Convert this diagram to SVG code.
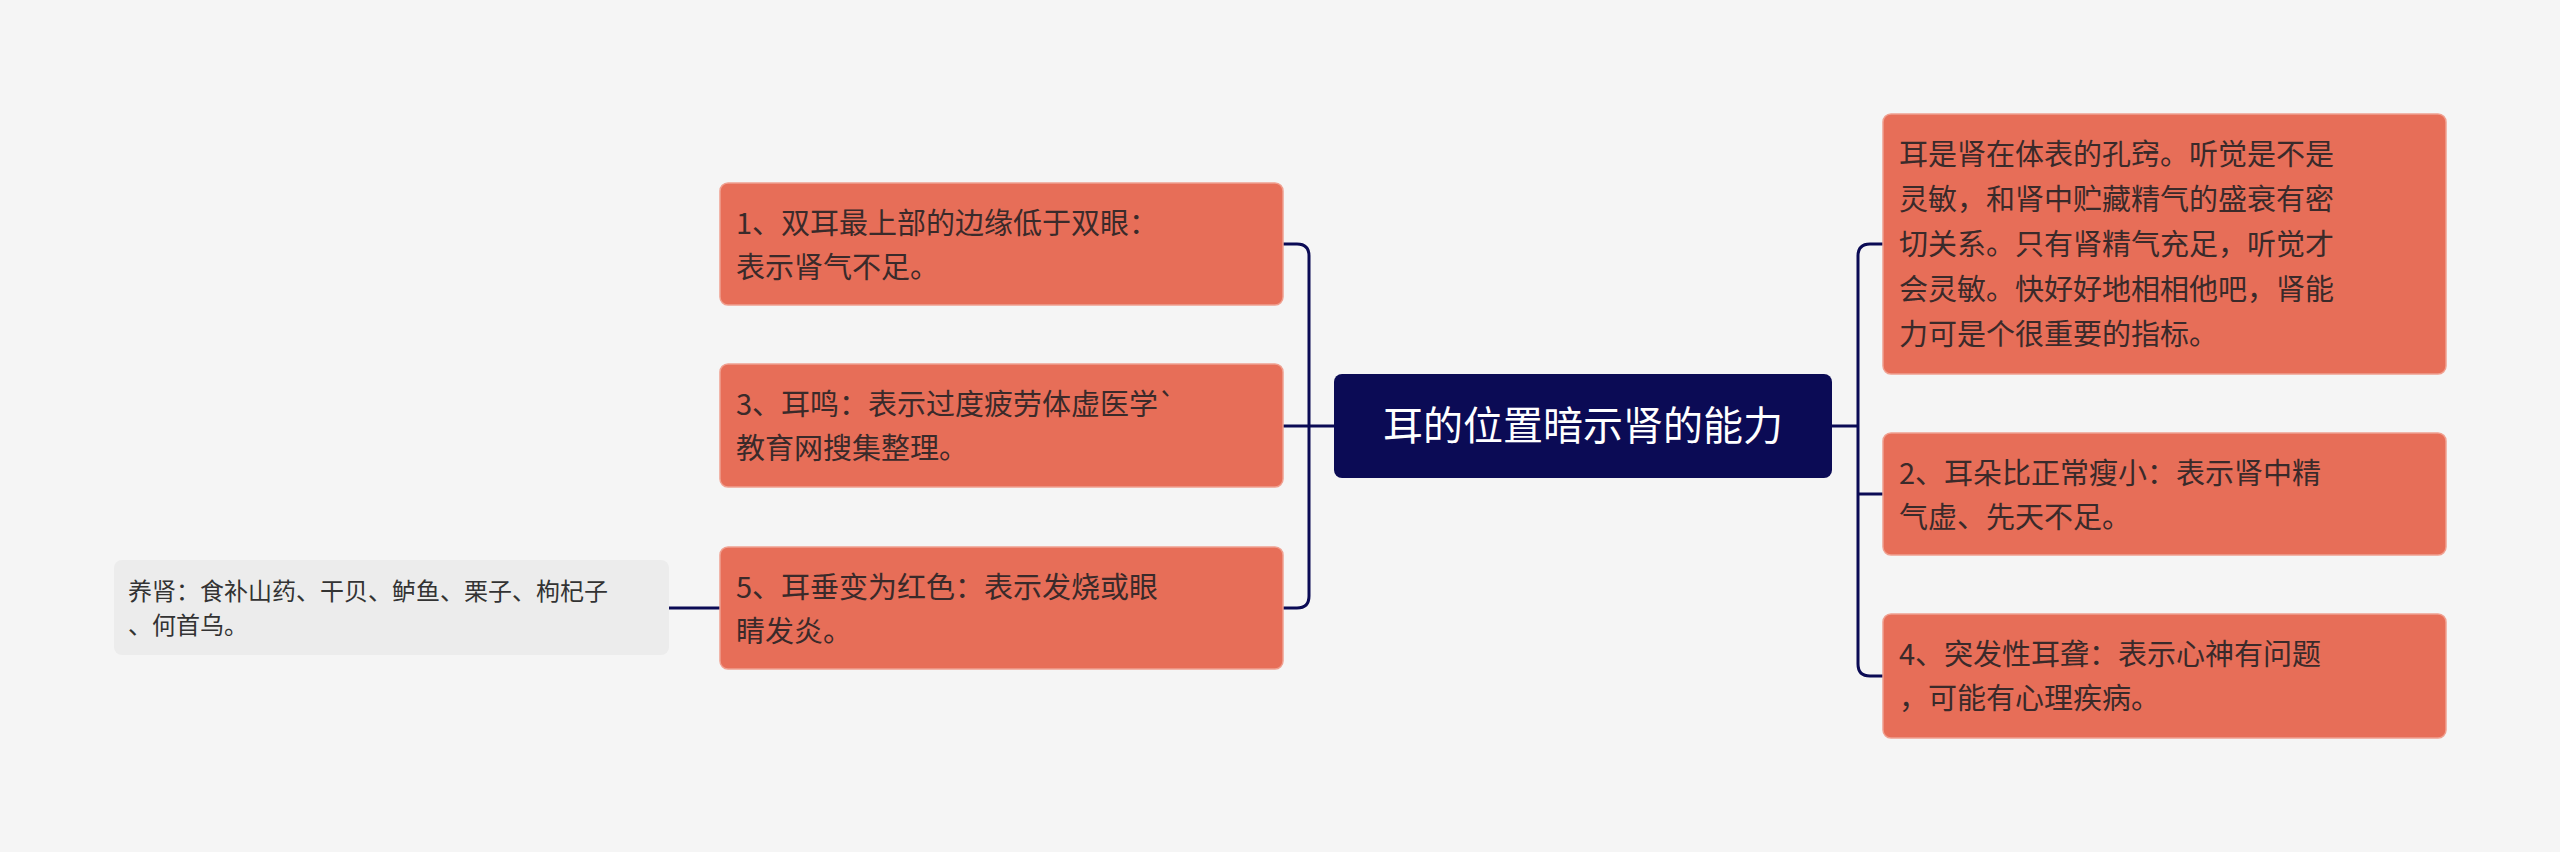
<svg xmlns="http://www.w3.org/2000/svg" width="2560" height="852" viewBox="0 0 2560 852">
<style>
.n rect{fill:#e76e58;stroke:#f0a090;stroke-width:1.5}
.n text{font-family:"Noto Sans CJK SC","Noto Sans",sans-serif;font-size:29px;fill:#3a2a2a}
.c path{fill:none;stroke:#0b0b55;stroke-width:3}
</style>
<rect width="2560" height="852" fill="#f5f5f5"/>
<g class="c">
<path d="M1334 426H1309"/>
<path d="M1283 244H1297Q1309 244 1309 256V596Q1309 608 1297 608H1283"/>
<path d="M1283 426H1309"/>
<path d="M1832 426H1858"/>
<path d="M1883 244H1870Q1858 244 1858 256V664Q1858 676 1870 676H1883"/>
<path d="M1858 494H1883"/>
<path d="M669 608H720"/>
</g>
<g id="center"><rect x="1334" y="374" width="498" height="104" rx="8" fill="#0b0b55"/><text x="1583" y="440" text-anchor="middle" font-family="Noto Sans CJK SC,sans-serif" font-size="40" fill="#fff">耳的位置暗示肾的能力</text></g>
<g id="n1" class="n"><rect x="720" y="183" width="563" height="122" rx="8"/><text x="736" y="234">1、双耳最上部的边缘低于双眼：</text><text x="736" y="278">表示肾气不足。</text></g>
<g id="n3" class="n"><rect x="720" y="364" width="563" height="123" rx="8"/><text x="736" y="415">3、耳鸣：表示过度疲劳体虚医学`</text><text x="736" y="459">教育网搜集整理。</text></g>
<g id="n5" class="n"><rect x="720" y="547" width="563" height="122" rx="8"/><text x="736" y="598">5、耳垂变为红色：表示发烧或眼</text><text x="736" y="642">睛发炎。</text></g>
<g id="r1" class="n"><rect x="1883" y="114" width="563" height="260" rx="8"/><text x="1899" y="165">耳是肾在体表的孔窍。听觉是不是</text><text x="1899" y="210">灵敏，和肾中贮藏精气的盛衰有密</text><text x="1899" y="255">切关系。只有肾精气充足，听觉才</text><text x="1899" y="300">会灵敏。快好好地相相他吧，肾能</text><text x="1899" y="345">力可是个很重要的指标。</text></g>
<g id="r2" class="n"><rect x="1883" y="433" width="563" height="122" rx="8"/><text x="1899" y="484">2、耳朵比正常瘦小：表示肾中精</text><text x="1899" y="528">气虚、先天不足。</text></g>
<g id="r4" class="n"><rect x="1883" y="614" width="563" height="124" rx="8"/><text x="1899" y="665">4、突发性耳聋：表示心神有问题</text><text x="1899" y="709">，可能有心理疾病。</text></g>
<g id="leaf"><rect x="114" y="560" width="555" height="95" rx="8" fill="#ececec"/><text font-family="Noto Sans CJK SC,sans-serif" font-size="24" fill="#333"><tspan x="128" y="600">养肾：食补山药、干贝、鲈鱼、栗子、枸杞子</tspan><tspan x="128" y="634">、何首乌。</tspan></text></g>
</svg>
